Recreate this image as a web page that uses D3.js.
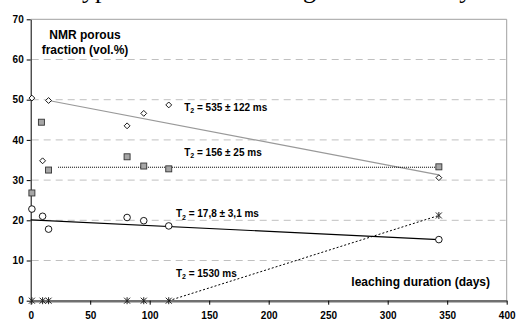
<!DOCTYPE html>
<html>
<head>
<meta charset="utf-8">
<script src="https://cdn.jsdelivr.net/npm/d3@7"></script>
<style>
  body { margin: 0; background: #fff; overflow: hidden; }
  svg { display: block; }
  svg text { font-family: Arial, "Liberation Sans", sans-serif; }
</style>
</head>
<body>
<svg id="chart" width="516" height="320"></svg>
<script>
// NMR porous fraction vs leaching duration

// --- Data ---
const days = [1, 10, 15, 81, 95, 116, 343];
const diamondVals = [50.4, 34.8, 49.8, 43.5, 46.6, 48.7, 30.6];
const squareDays = [1, 9, 15, 81, 95, 116, 343];
const squareVals = [26.8, 44.4, 32.5, 35.8, 33.5, 32.8, 33.3];
const circleVals = [22.8, 21.0, 17.8, 20.7, 19.9, 18.6, 15.2];
const starVals = [0, 0, 0, 0, 0, 0, 21.2];

// trend lines, endpoints
const trend535 = [[15, 49.8], [343, 31.3]];
const trend156 = [[23, 33.2], [340, 33.2]];
const trend17 = [[0, 20.1], [343, 15.2]];
const trend1530 = [[116, 0], [343, 21.2]];

const labels = [
  { x: 129, y: 47.3, main: "T", sub: "2", rest: " = 535 ± 122 ms" },
  { x: 129, y: 36.1, main: "T", sub: "2", rest: " = 156 ± 25 ms" },
  { x: 122, y: 20.8, main: "T", sub: "2", rest: " = 17,8 ± 3,1 ms" },
  { x: 122, y: 5.9, main: "T", sub: "2", rest: " = 1530 ms" }
];

// pieces of the page caption cut off above the chart
const captionBits = [
  { x: 56, text: "Atypical" },
  { x: 248, text: "during" },
  { x: 416, text: "study" }
];

const xTicks = [0, 50, 100, 150, 200, 250, 300, 350, 400];
const yTicks = [0, 10, 20, 30, 40, 50, 60, 70];

// --- Scales ---
const svg = d3.select("#chart");
const x = d3.scaleLinear().domain([0, 400]).range([30.7, 506.7]);
const y = d3.scaleLinear().domain([0, 70]).range([300.7, 19.3]);

// clipped caption line at the very top
svg.append("g").selectAll("text")
  .data(captionBits)
  .join("text")
  .attr("x", d => d.x).attr("y", -2.5)
  .style("font-family", "'Liberation Serif', 'DejaVu Serif', serif")
  .style("font-size", "26px")
  .attr("fill", "#000")
  .text(d => d.text);

// gridlines
svg.append("g").selectAll("line")
  .data(yTicks.filter(d => d > 0 && d < 70))
  .join("line")
  .attr("x1", x(0) + 1).attr("x2", x(400) - 1)
  .attr("y1", d => y(d)).attr("y2", d => y(d))
  .attr("stroke", "#c0c0c0")
  .attr("stroke-dasharray", "7,5");

// frame top/right
svg.append("path")
  .attr("d", `M${x(0)},${y(70)}H${x(400)}V${y(0)}`)
  .attr("fill", "none").attr("stroke", "#a0a0a0");

// axes
const yAxis = svg.append("g")
  .attr("transform", `translate(${x(0)},0)`)
  .call(d3.axisLeft(y).tickValues(yTicks).tickSize(4).tickPadding(3).tickSizeOuter(0));
yAxis.select(".domain").attr("stroke", "#000");
yAxis.selectAll("text").style("font-size", "10px").style("font-weight", "bold");

const xAxis = svg.append("g")
  .attr("transform", `translate(0,${y(0)})`)
  .call(d3.axisBottom(x).tickValues(xTicks).tickSize(4).tickPadding(7).tickSizeOuter(0));
xAxis.select(".domain").attr("stroke", "#707070").attr("stroke-width", 2.5);
xAxis.selectAll("text").style("font-size", "10px").style("font-weight", "bold");

// trend lines
const line = d3.line().x(d => x(d[0])).y(d => y(d[1]));
svg.append("path").datum(trend535).attr("d", line)
  .attr("fill", "none").attr("stroke", "#999").attr("stroke-width", 1.2);
svg.append("path").datum(trend156).attr("d", line)
  .attr("fill", "none").attr("stroke", "#000").attr("stroke-dasharray", "1,1");
svg.append("path").datum(trend17).attr("d", line)
  .attr("fill", "none").attr("stroke", "#000").attr("stroke-width", 1.2);
svg.append("path").datum(trend1530).attr("d", line)
  .attr("fill", "none").attr("stroke", "#000").attr("stroke-dasharray", "2,2");

// markers
const sym = d3.symbol();
svg.append("g").selectAll("path")
  .data(days.map((d, i) => [d, diamondVals[i]]))
  .join("path")
  .attr("transform", d => `translate(${x(d[0])},${y(d[1])})`)
  .attr("d", sym.type(d3.symbolDiamond2).size(22))
  .attr("fill", "#fff").attr("stroke", "#000").attr("stroke-width", 0.9);

svg.append("g").selectAll("rect")
  .data(squareDays.map((d, i) => [d, squareVals[i]]))
  .join("rect")
  .attr("x", d => x(d[0]) - 3).attr("y", d => y(d[1]) - 3)
  .attr("width", 6).attr("height", 6)
  .attr("fill", "#a6a6a6").attr("stroke", "#333").attr("stroke-width", 0.9);

svg.append("g").selectAll("circle")
  .data(days.map((d, i) => [d, circleVals[i]]))
  .join("circle")
  .attr("cx", d => x(d[0])).attr("cy", d => y(d[1]))
  .attr("r", 3.3)
  .attr("fill", "#fff").attr("stroke", "#000").attr("stroke-width", 0.9);

svg.append("g").selectAll("path")
  .data(days.map((d, i) => [d, starVals[i]]))
  .join("path")
  .attr("transform", d => `translate(${x(d[0])},${y(d[1])})`)
  .attr("d", "M-3,-3L3,3M-3,3L3,-3M0,-3.5V3.5")
  .attr("fill", "none").attr("stroke", "#222").attr("stroke-width", 1);

// T2 labels
labels.forEach(l => {
  const t = svg.append("text")
    .attr("x", x(l.x)).attr("y", y(l.y))
    .style("font-size", "10px").style("font-weight", "bold");
  t.append("tspan").text(l.main);
  t.append("tspan").attr("dy", 2.5).style("font-size", "7px").text(l.sub);
  t.append("tspan").attr("dy", -2.5).text(l.rest);
});

// axis titles
const yTitle = svg.append("text")
  .attr("text-anchor", "middle")
  .style("font-size", "12px").style("font-weight", "bold");
yTitle.append("tspan").attr("x", 85).attr("y", 39).text("NMR porous");
yTitle.append("tspan").attr("x", 85).attr("y", 54).text("fraction (vol.%)");

svg.append("text")
  .attr("x", 490).attr("y", 286)
  .attr("text-anchor", "end")
  .style("font-size", "12px").style("font-weight", "bold")
  .text("leaching duration (days)");
</script>
</body>
</html>
